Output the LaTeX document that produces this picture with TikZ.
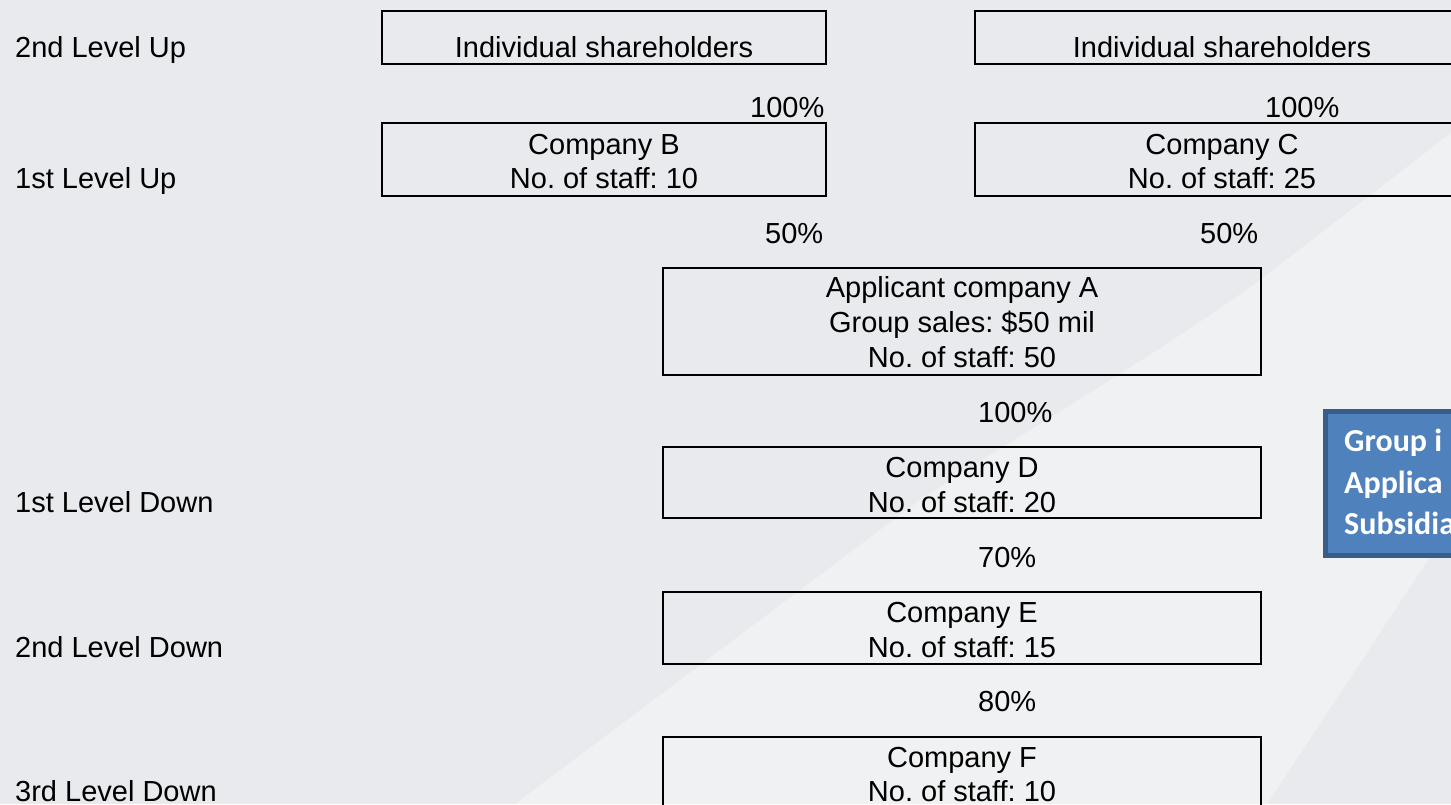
\documentclass[tikz,border=0pt]{standalone}
\usepackage{fontspec}
\setmainfont{Liberation Sans}
\newfontfamily\calib{Carlito}
\definecolor{bgc}{RGB}{233,234,238}
\definecolor{lightc}{RGB}{240,241,242}
\definecolor{blueA}{RGB}{79,129,189}
\definecolor{blueD}{RGB}{56,93,138}
\begin{document}
\frenchspacing
\begin{tikzpicture}[x=1pt,y=-1pt,
  box/.style={draw=black,line width=2pt,inner sep=0pt,outer sep=0pt},
  txt/.style={anchor=base,inner sep=0pt,font=\fontsize{29}{34}\selectfont},
  pct/.style={anchor=base west,inner sep=0pt,font=\fontsize{29}{34}\selectfont},
  lvl/.style={anchor=base west,inner sep=0pt,font=\fontsize{29}{34}\selectfont},
  bluebox/.style={draw=blueD,fill=blueA,line width=5pt,inner sep=0pt,outer sep=0pt},
  bluetxt/.style={anchor=base west,inner sep=0pt,text=white,font=\calib\bfseries\fontsize{32}{40}\selectfont}]
\useasboundingbox (0,0) rectangle (1451,804);
\clip (0,0) rectangle (1451,804);
% background
\fill[bgc] (0,0) rectangle (1451,804);
\fill[lightc] (515,804) -- (920,500) .. controls (1010,440) and (1150,360) .. (1260,280)
  -- (1451,133) -- (1451,525) -- (1267,804) -- cycle;
% level labels
\node[lvl] (l2u) at (15,57) {2nd Level Up};
\node[lvl] (l1u) at (15,188) {1st Level Up};
\node[lvl] (l1d) at (15,512) {1st Level Down};
\node[lvl] (l2d) at (15,657) {2nd Level Down};
\node[lvl] (l3d) at (15,801) {3rd Level Down};
% shareholder boxes
\node[box,minimum width=444pt,minimum height=53pt] (s1) at (604,37.5) {};
\node[txt] (s1t) at (604,57) {Individual shareholders};
\node[box,minimum width=495pt,minimum height=53pt] (s2) at (1222.5,37.5) {};
\node[txt] (s2t) at (1222,57) {Individual shareholders};
\node[pct] (p1) at (750,117) {100\%};
\node[pct] (p2) at (1265,117) {100\%};
% company B and C
\node[box,minimum width=444pt,minimum height=73pt] (b) at (604,159.5) {};
\node[txt] (b1) at (604,154) {Company B};
\node[txt] (b2) at (604,188) {No. of staff: 10};
\node[box,minimum width=495pt,minimum height=73pt] (c) at (1222.5,159.5) {};
\node[txt] (c1) at (1222,154) {Company C};
\node[txt] (c2) at (1222,188) {No. of staff: 25};
\node[pct] (p3) at (765,243) {50\%};
\node[pct] (p4) at (1200,243) {50\%};
% applicant A
\node[box,minimum width=598pt,minimum height=107pt] (a) at (962,321.5) {};
\node[txt] (a1) at (962,297) {Applicant company A};
\node[txt] (a2) at (962,332) {Group sales: \$50 mil};
\node[txt] (a3) at (962,367) {No. of staff: 50};
\node[pct] (p5) at (978,422) {100\%};
% D
\node[box,minimum width=598pt,minimum height=71pt] (d) at (962,482.5) {};
\node[txt] (d1) at (962,477) {Company D};
\node[txt] (d2) at (962,512) {No. of staff: 20};
\node[pct] (p6) at (978,567) {70\%};
% E
\node[box,minimum width=598pt,minimum height=72pt] (e) at (962,628) {};
\node[txt] (e1) at (962,622) {Company E};
\node[txt] (e2) at (962,657) {No. of staff: 15};
\node[pct] (p7) at (978,711) {80\%};
% F
\node[box,minimum width=598pt,minimum height=72pt] (f) at (962,773) {};
\node[txt] (f1) at (962,767) {Company F};
\node[txt] (f2) at (962,801) {No. of staff: 10};
% blue callout
\node[bluebox,minimum width=272pt,minimum height=144pt] (grp) at (1461.5,483.5) {};
\node[bluetxt] (g1) at (1344,451) {Group i};
\node[bluetxt] (g2) at (1344,493) {Applica};
\node[bluetxt] (g3) at (1344,534) {Subsidia};
\end{tikzpicture}
\end{document}
